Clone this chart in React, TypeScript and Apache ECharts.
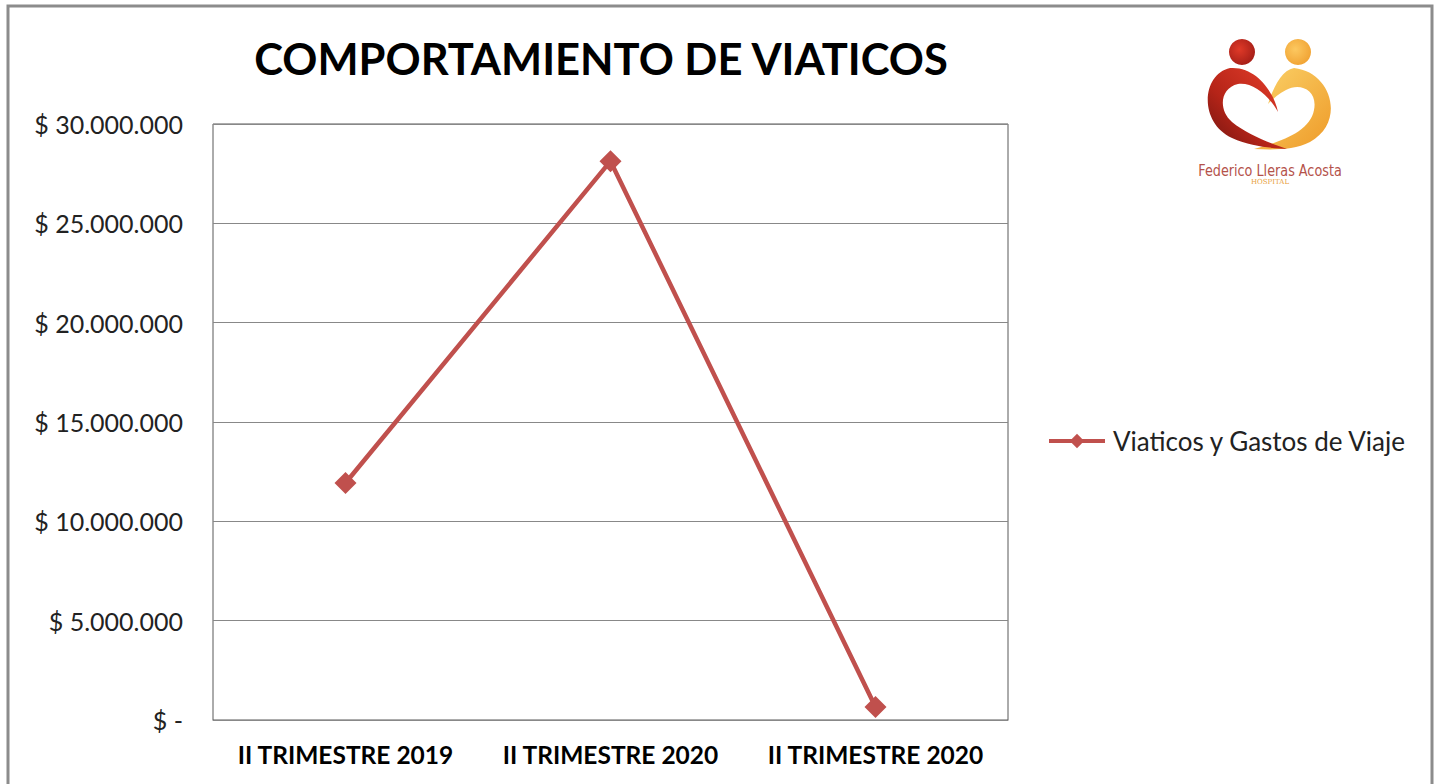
import React, { useEffect, useRef } from "react";
import * as echarts from "echarts";

const categories = ["II TRIMESTRE 2019", "II TRIMESTRE 2020", "II TRIMESTRE 2020"];
const seriesName = "Viaticos y Gastos de Viaje";
const values = [11930000, 28130000, 650000];
const titleText = "COMPORTAMIENTO DE VIATICOS";
const logoName = "Federico Lleras Acosta";
const logoSub = "HOSPITAL";

const FONT = "Lato, 'Open Sans', sans-serif";

const redSwoosh =
  "M40 38 C12 44 8 92 42 108 C62 117 82 118 97 119 C80 113 58 105 42 92 C28 80 30 58 48 54 C62 52 78 64 88 82 C84 62 66 36 40 38 Z";
const yellowSwoosh =
  "M104 38 C142 42 156 92 120 112 C104 120 84 120 64 119 C90 112 120 102 124 80 C128 60 110 52 96 60 C88 64 82 70 78 74 C84 56 92 40 104 38 Z";

let registered = false;
function registerShapes() {
  if (registered) return;
  echarts.graphic.registerShape("redSwoosh", echarts.graphic.extendPath(redSwoosh, {}));
  echarts.graphic.registerShape("yellowSwoosh", echarts.graphic.extendPath(yellowSwoosh, {}));
  registered = true;
}

function fmt(v: number) {
  if (v === 0) return "$ -";
  return "$ " + Math.round(v).toString().replace(/\B(?=(\d{3})+(?!\d))/g, ".");
}

export default function App() {
  const ref = useRef<HTMLDivElement>(null);
  useEffect(() => {
    document.body.style.margin = "0";
    registerShapes();
    const chart = echarts.init(ref.current!, null, { renderer: "svg" });
    const LX = 1190;
    const LY = 30;
    chart.setOption({
      animation: false,
      backgroundColor: "#ffffff",
      title: {
        text: titleText,
        left: 596,
        top: 31,
        textAlign: "center",
        textStyle: { fontFamily: FONT, fontWeight: "bold", fontSize: 43.5, color: "#000" },
      },
      legend: {
        data: [seriesName],
        orient: "vertical",
        left: 1042,
        top: 423,
        itemWidth: 56,
        itemHeight: 18,
        itemGap: 8,
        lineStyle: { width: 4 },
        textStyle: { fontFamily: FONT, fontSize: 26, color: "#222", padding: [0, 0, 0, 3] },
      },
      grid: {
        left: 213,
        right: 1438 - 1008,
        top: 124,
        bottom: 784 - 720,
        show: true,
        borderColor: "#595959",
        borderWidth: 1,
        backgroundColor: "transparent",
      },
      xAxis: {
        type: "category",
        data: categories,
        boundaryGap: true,
        axisLine: { show: true, lineStyle: { color: "#888" } },
        axisTick: { show: false },
        axisLabel: {
          fontFamily: FONT,
          fontWeight: "bold",
          fontSize: 24.5,
          color: "#000",
          margin: 22,
          interval: 0,
        },
      },
      yAxis: {
        type: "value",
        min: 0,
        max: 30000000,
        interval: 5000000,
        axisLine: { show: false },
        axisTick: { show: false },
        splitLine: { show: true, lineStyle: { color: "#888", width: 1 } },
        axisLabel: {
          fontFamily: FONT,
          fontSize: 25,
          color: "#222",
          margin: 30,
          formatter: (v: number) => fmt(v),
        },
      },
      series: [
        {
          name: seriesName,
          type: "line",
          data: values,
          symbol: "diamond",
          symbolSize: 22,
          lineStyle: { color: "#c0504d", width: 4.5 },
          itemStyle: { color: "#c0504d" },
        },
      ],
      graphic: [
        {
          type: "rect",
          shape: { x: 8, y: 6, width: 1424, height: 820 },
          style: { fill: "none", stroke: "#8c8c8c", lineWidth: 3 },
          silent: true,
        },
        {
          type: "group",
          x: LX,
          y: LY,
          children: [
            {
              type: "circle",
              shape: { cx: 52, cy: 22, r: 13 },
              style: {
                fill: new echarts.graphic.RadialGradient(0.4, 0.4, 0.7, [
                  { offset: 0, color: "#e03a28" },
                  { offset: 1, color: "#a01c16" },
                ]),
              },
            },
            {
              type: "circle",
              shape: { cx: 108, cy: 22, r: 13 },
              style: {
                fill: new echarts.graphic.RadialGradient(0.4, 0.4, 0.7, [
                  { offset: 0, color: "#fcc860" },
                  { offset: 1, color: "#f0a030" },
                ]),
              },
            },
            {
              type: "yellowSwoosh",
              x: 0,
              y: 0,
              style: {
                fill: new echarts.graphic.LinearGradient(0, 0, 1, 1, [
                  { offset: 0, color: "#fbd36a" },
                  { offset: 1, color: "#ee9a28" },
                ]),
              },
            },
            {
              type: "redSwoosh",
              x: 0,
              y: 0,
              style: {
                fill: new echarts.graphic.LinearGradient(1, 0, 0, 1, [
                  { offset: 0, color: "#e8402c" },
                  { offset: 0.6, color: "#b52418" },
                  { offset: 1, color: "#6e1410" },
                ]),
              },
            },
            {
              type: "text",
              x: 80,
              y: 140,
              scaleX: 0.8,
              style: {
                text: logoName,
                fill: "#b4524a",
                font: "16px 'DejaVu Sans', sans-serif",
                textAlign: "center",
                textVerticalAlign: "middle",
              },
            },
            {
              type: "text",
              x: 80,
              y: 152,
              style: {
                text: logoSub,
                fill: "#e8a040",
                font: "7px 'DejaVu Serif', serif",
                textAlign: "center",
                textVerticalAlign: "middle",
              },
            },
          ],
        },
      ],
    });
    return () => chart.dispose();
  }, []);
  return <div ref={ref} style={{ width: 1438, height: 784 }} />;
}
